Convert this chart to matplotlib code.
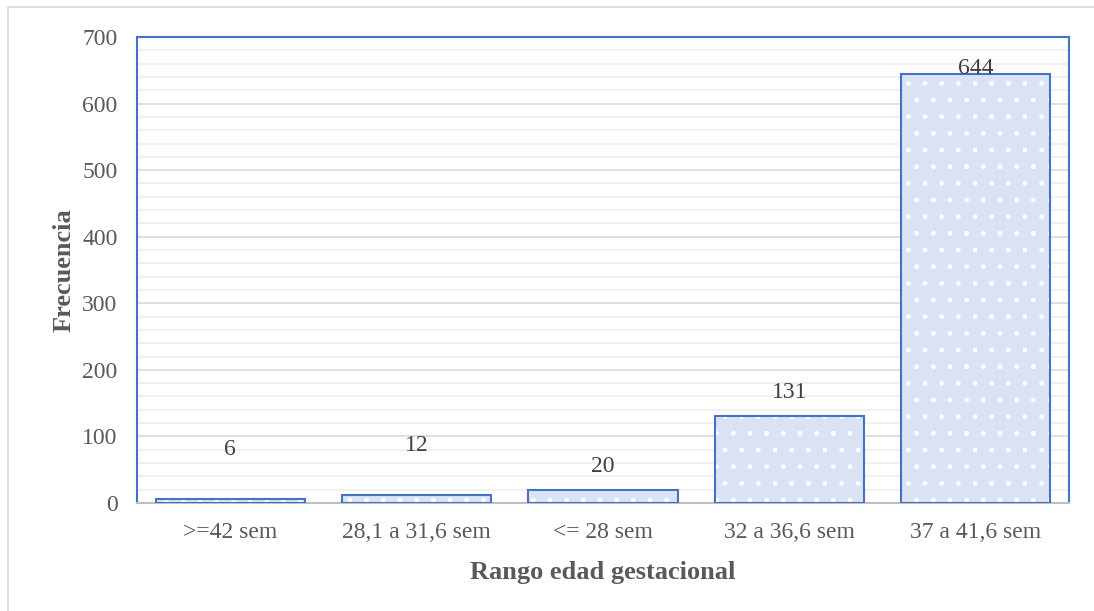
import matplotlib.pyplot as plt
from matplotlib.patches import Rectangle
from matplotlib.ticker import MultipleLocator

categorias = [">=42 sem", "28,1 a 31,6 sem", "<= 28 sem", "32 a 36,6 sem", "37 a 41,6 sem"]
frecuencia = [6, 12, 20, 131, 644]

plt.rcParams['font.family'] = ['Liberation Serif', 'DejaVu Serif']
gris = '#595959'
azul = '#4472c4'
relleno = '#dae3f3'

fig = plt.figure(figsize=(10.94, 6.11), dpi=100)
fig.patches.append(Rectangle((8 / 1094, -0.01), 1.1, 1 - 7 / 611 + 0.01,
                             transform=fig.transFigure, fill=False,
                             edgecolor='#d9d9d9', linewidth=1.2))
ax = fig.add_axes([137 / 1094, 1 - 503 / 611, (1069 - 137) / 1094, (503 - 37) / 611])

x = range(len(categorias))
ax.bar(x, frecuencia, width=0.8, color=relleno, edgecolor='white', hatch='.',
       linewidth=0, zorder=2)
ax.bar(x, frecuencia, width=0.8, fill=False, edgecolor=azul, linewidth=1.5, zorder=3)

# desplazamiento extra de etiquetas (pt)
desp = [28, 28, 9, 9, 0]
for i, v in enumerate(frecuencia):
    if v > 600:
        ax.annotate(str(v), (i, v), xytext=(0, 4), textcoords='offset points',
                    ha='center', va='center', fontsize=17, color='#404040', zorder=4)
    else:
        ax.annotate(str(v), (i, v), xytext=(0, 8 + desp[i]), textcoords='offset points',
                    ha='center', va='center', fontsize=17, color='#404040', zorder=4)

ax.set_ylim(0, 700)
ax.set_xlim(-0.5, 4.5)
ax.yaxis.set_major_locator(MultipleLocator(100))
ax.yaxis.set_minor_locator(MultipleLocator(20))
ax.grid(axis='y', which='major', color='#d9d9d9', linewidth=1.2, zorder=0)
ax.grid(axis='y', which='minor', color='#ededed', linewidth=1.2, zorder=0)
ax.set_axisbelow(True)

ax.set_xticks(list(x))
ax.set_xticklabels(categorias)
ax.tick_params(axis='both', which='both', length=0, labelsize=17, labelcolor=gris)
ax.tick_params(axis='x', pad=14)
ax.tick_params(axis='y', pad=14)

for lado in ['left', 'top', 'right']:
    ax.spines[lado].set_color(azul)
    ax.spines[lado].set_linewidth(1.5)
ax.spines['bottom'].set_color('#bfbfbf')
ax.spines['bottom'].set_linewidth(1.5)

ax.set_xlabel("Rango edad gestacional", fontsize=19, fontweight='bold', color=gris, labelpad=13)
ax.set_ylabel("Frecuencia", fontsize=19, fontweight='bold', color=gris, labelpad=5)

fig.savefig("out.png", dpi=100)
